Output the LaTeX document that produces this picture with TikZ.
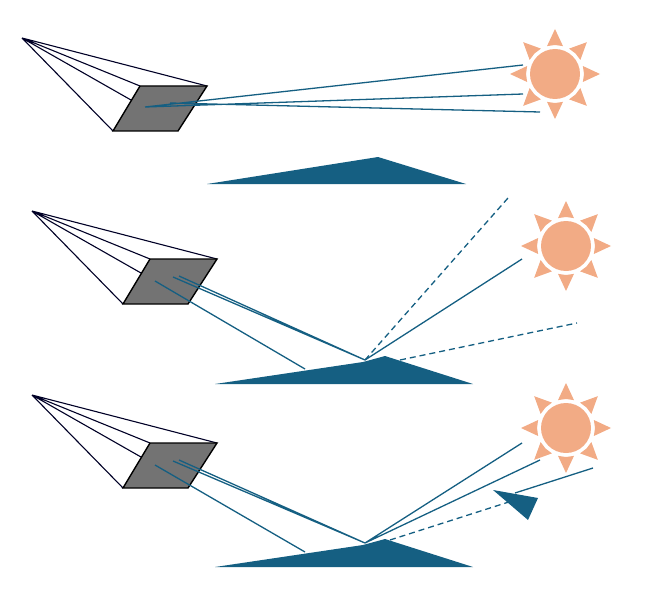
\documentclass[tikz,border=0pt]{standalone}
\usetikzlibrary{calc}
\begin{document}
\begin{tikzpicture}[x=1pt,y=-1pt,
  cam/.style={draw=black!85!blue,line width=1.1pt},
  ray/.style={draw=rayc,line width=1.3pt},
  dray/.style={ray,dash pattern=on 6pt off 4pt}]
\definecolor{rayc}{HTML}{155F82}
\definecolor{sunc}{HTML}{F2AB85}
\useasboundingbox (0,0) rectangle (660,596);
\newcommand{\sunat}[3]{%
  \fill[sunc] (#1,#2) circle (#3);
  \foreach \a in {0,45,...,315}{
    \fill[sunc] ($(#1,#2)+(\a:#3+4)$) -- ($(#1,#2)+(\a+16:#3+4)$) -- ($(#1,#2)+(\a:#3+20)$) -- ($(#1,#2)+(\a-16:#3+4)$) -- cycle;}}
\newcommand{\camat}[2]{%
 \begin{scope}[shift={(#1,#2)}]
  \coordinate (ap) at (22,38);
  \coordinate (tl) at (140,86); \coordinate (tr) at (207,86);
  \coordinate (br) at (178,131); \coordinate (bl) at (113,131);
  \coordinate (ml) at (131,100);
  \draw[cam] (ap)--(tr) (ap)--(tl) (ap)--(ml) (ap)--(bl);
  \draw[fill=black!55,line width=1.4pt] (tl)--(tr)--(br)--(bl)--cycle;
 \end{scope}}
% panel 1
\camat{0}{0}
\sunat{555}{74}{25}
\coordinate (m1a) at (207,184); \coordinate (m1p) at (378,157); \coordinate (m1b) at (466,184);
\fill[rayc] (m1a)--(m1p)--(m1b)--cycle;
\coordinate (c1) at (145,107); \coordinate (s1a) at (523,65); \coordinate (s1b) at (523,94);
\coordinate (c1b) at (170,103); \coordinate (s1c) at (540,112);
\draw[ray] (c1)--(s1a) (c1)--(s1b) (c1b)--(s1c);
% panel 2
\camat{10}{173}
\sunat{566}{246}{25}
\fill[rayc] (215,384)--(363,362)--(385,356)--(473,384)--cycle;
\coordinate (g2) at (365,360);
\coordinate (p2a) at (155,281); \coordinate (e2a) at (305,369);
\coordinate (p2b) at (173,277); \coordinate (p2c) at (179,276);
\draw[ray] (p2a)--(e2a) (p2b)--(g2) (p2c)--(g2);
\coordinate (s2) at (522,259); \coordinate (d2a) at (508,198);
\coordinate (d2s) at (400,360); \coordinate (d2b) at (577,323);
\draw[ray] (g2)--(s2);
\draw[dray] (g2)--(d2a) (d2s)--(d2b);
% panel 3
\camat{10}{357}
\sunat{566}{428}{25}
\fill[rayc] (215,567)--(363,545)--(385,539)--(473,567)--cycle;
\coordinate (g3) at (365,543);
\coordinate (p3a) at (155,465); \coordinate (e3a) at (305,552);
\coordinate (p3b) at (173,461); \coordinate (p3c) at (179,460);
\draw[ray] (p3a)--(e3a) (p3b)--(g3) (p3c)--(g3);
\coordinate (s3a) at (522,443); \coordinate (s3b) at (540,460);
\coordinate (s3c) at (593,468); \coordinate (s3d) at (515,493);
\coordinate (d3s) at (390,540); \coordinate (d3e) at (515,500);
\draw[ray] (g3)--(s3a) (g3)--(s3b) (s3c)--(s3d);
\draw[dray] (d3s)--(d3e);
\fill[rayc] (493,490)--(538,498)--(528,520)--cycle;
\end{tikzpicture}
\end{document}
